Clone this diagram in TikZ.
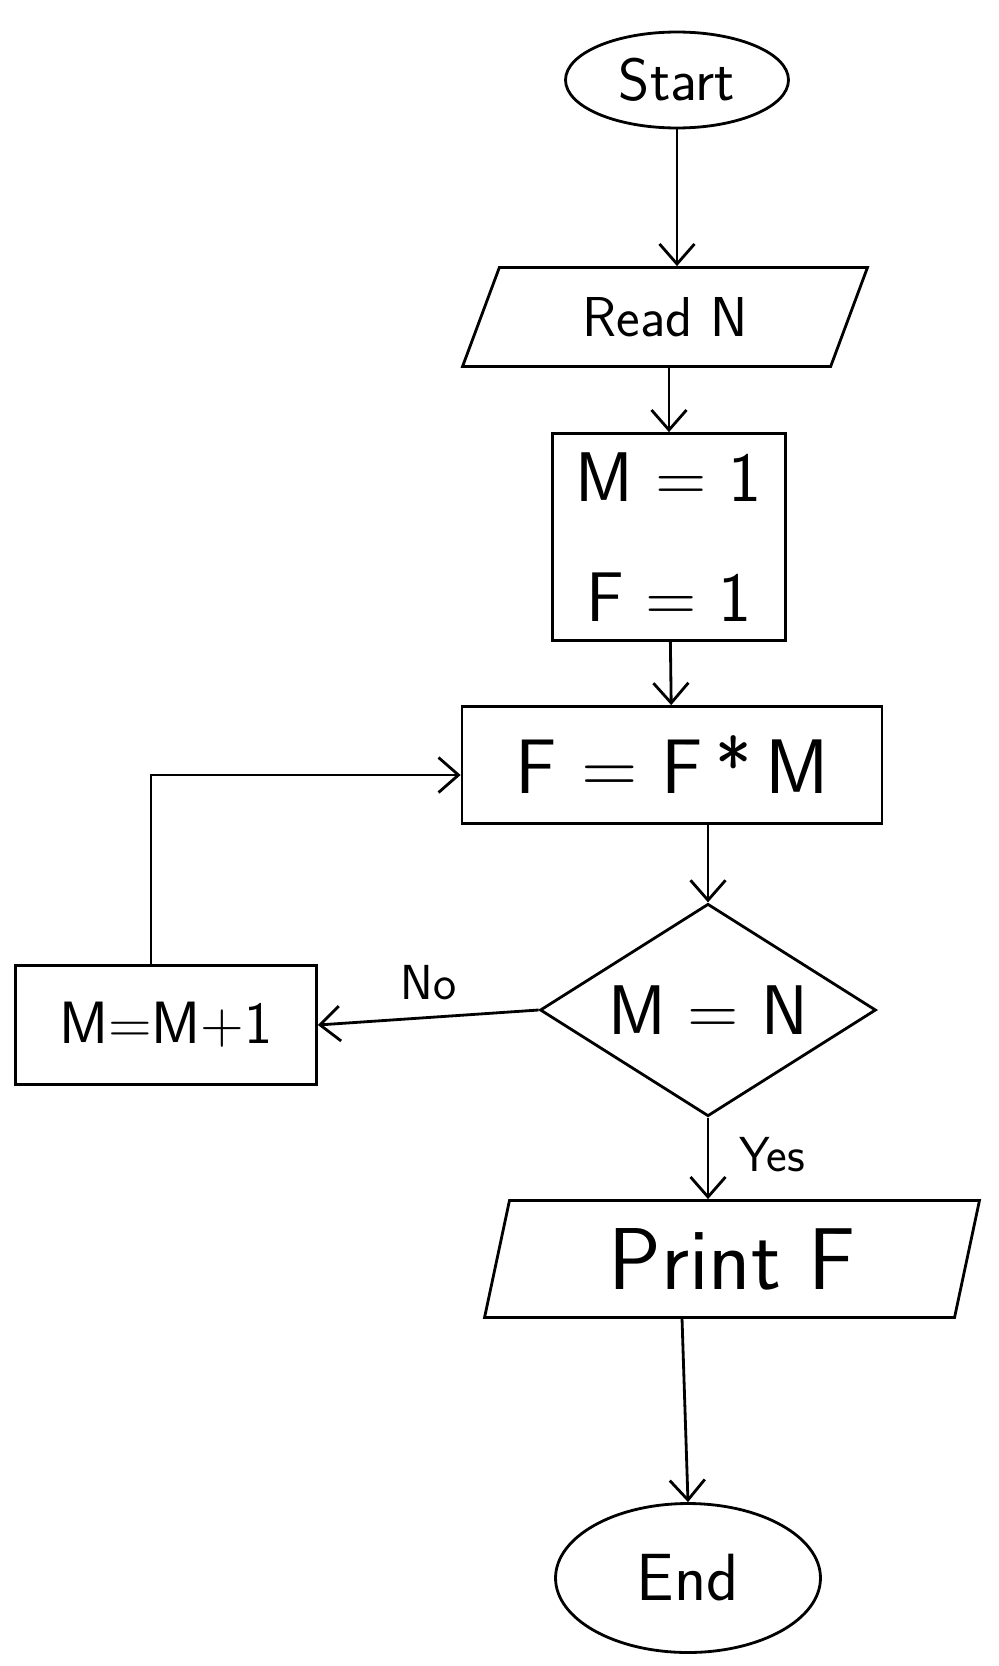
\documentclass[tikz,border=0pt]{standalone}
\usepackage{fontspec}
\usepackage{tikz}
\usetikzlibrary{shapes.geometric}
\usetikzlibrary{arrows.meta}
\usetikzlibrary{positioning}

\tikzset{
  pen/.style={line width=1.6pt, black},
  terminal/.style={pen, draw, ellipse, inner sep=0pt},
  io/.style={pen, draw, trapezium, trapezium stretches body, inner sep=0pt},
  process/.style={pen, draw, rectangle, inner sep=0pt},
  decision/.style={pen, draw, diamond, inner sep=0pt},
  flow/.style={pen, arrows={-Straight Barb[length=4mm,width=7mm]}},
  lbl/.style={font=\sffamily\fontsize{28}{32}\selectfont},
}

\begin{document}
\begin{tikzpicture}[x=0.02cm, y=-0.02cm]

% page frame
\useasboundingbox (0,0) rectangle (999,1666);

% terminals
\node[terminal, minimum width=4.46cm, minimum height=1.92cm,
      font=\sffamily\fontsize{34}{40}\selectfont] (start) at (677,80) {Start};
\node[terminal, minimum width=5.3cm, minimum height=2.98cm,
      font=\sffamily\fontsize{38}{44}\selectfont] (end) at (688,1578) {End};

% input / output
\node[io, trapezium left angle=47, trapezium right angle=133,
      minimum width=8.1cm, minimum height=1.98cm,
      font=\sffamily\fontsize{32}{38}\selectfont] (read) at (665,317) {Read N};
\node[io, trapezium left angle=68, trapezium right angle=112,
      minimum width=9.9cm, minimum height=2.34cm,
      font=\sffamily\fontsize{50}{56}\selectfont] (print) at (732,1259) {Print F};

% processes
\node[process, minimum width=4.66cm, minimum height=4.14cm, align=center,
      font=\sffamily\fontsize{40}{68}\selectfont] (init) at (669,537) {M = 1\\F = 1};
\node[process, minimum width=8.4cm, minimum height=2.34cm,
      font=\sffamily\fontsize{44}{50}\selectfont] (calc) at (672,765) {F = F\,*\,M};
\node[process, minimum width=6.02cm, minimum height=2.38cm,
      font=\sffamily\fontsize{34}{40}\selectfont] (incr) at (166,1025) {M=M+1};

% test
\node[decision, shape aspect=1.58, minimum width=6.72cm, minimum height=4.25cm,
      font=\sffamily\fontsize{40}{46}\selectfont] (test) at (708,1010) {M = N};

% main line
\draw[flow] (start) -- (start |- read.north);
\draw[flow] (read.south -| init.north) -- (init);
\draw[flow] (init) -- (calc);
\draw[flow] (calc.south -| test.north) -- (test.north);
\draw[flow] (test.south) -- node[lbl, right=14pt, pos=0.45] {Yes} (test.south |- print.north);
\draw[flow] ([xshift=-1cm]print.south) -- (end.north);

% loop back
\draw[flow] (test.west) -- node[lbl, above=6pt] {No} (incr.east);
\draw[flow] ([xshift=-0.3cm]incr.north) |- ([yshift=-0.2cm]calc.west);

\end{tikzpicture}
\end{document}
